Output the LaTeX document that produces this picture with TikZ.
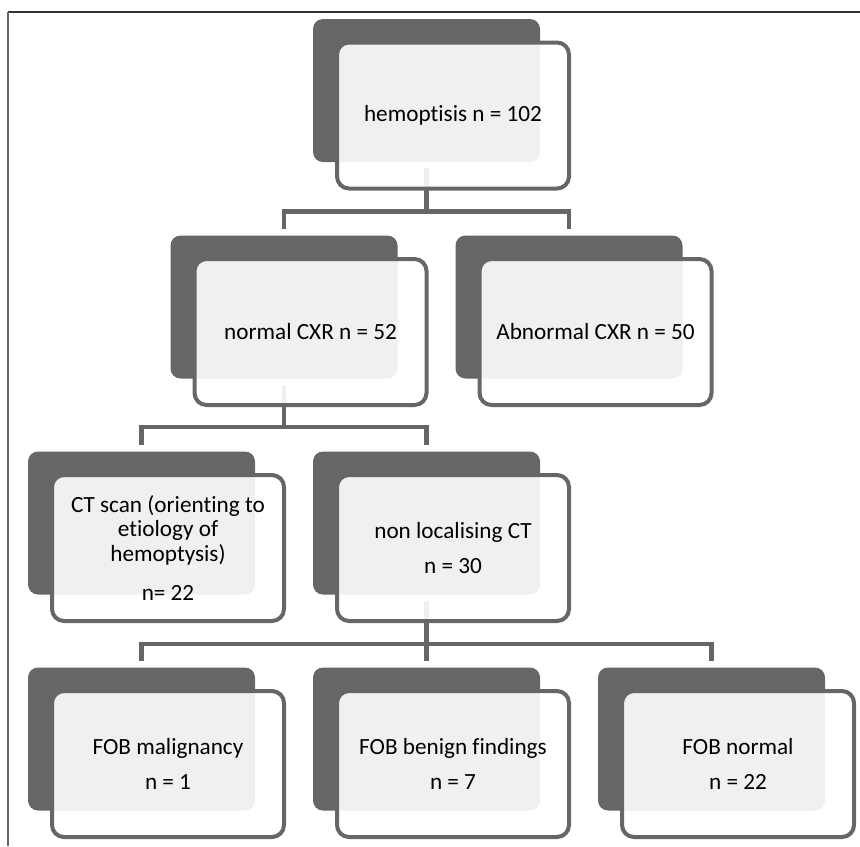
\documentclass[tikz,border=0pt]{standalone}
\usepackage{fontspec}
\setmainfont{Carlito}[Ligatures=NoCommon]
\usetikzlibrary{backgrounds}

\colorlet{boxgray}{black!60}

\tikzset{
	darkbox/.style={fill=boxgray, rounded corners=5pt, minimum width=113.5pt, minimum height=71.5pt, inner sep=0pt},
	lightbox/.style={draw=boxgray, line width=2pt, fill=white, fill opacity=0.9, text opacity=1, rounded corners=6pt,
		minimum width=116pt, minimum height=73pt, inner sep=0pt, align=center, font=\fontsize{11.6pt}{12.25pt}\selectfont},
	link/.style={draw=boxgray, line width=2.2pt, shorten <=3pt, shorten >=3pt}
}

\begin{document}
\begin{tikzpicture}[x=0.5pt,y=-0.5pt]

	\useasboundingbox (0,0) rectangle (860,846);
	%\draw[step=100,gray,very thin] (0,0) grid (860,846);

	\draw[black!80, line width=1pt] (8,12) -- (860,12);
	\draw[boxgray, line width=1.3pt] (8,12) -- (8,846);

	% first level
	\node[darkbox] (hemo) at (426.5,90.5) {};
		\node[lightbox] (hemoT) at ([shift={(26.5,25)}]hemo.center) {hemoptisis n = 102};

	% chest x-ray
	\node[darkbox] (normal) at (284,307) {};
		\node[lightbox] (normalT) at ([shift={(26.5,25)}]normal.center) {normal CXR n = 52};
	\node[darkbox] (abnormal) at (569,307) {};
		\node[lightbox] (abnormalT) at ([shift={(26.5,25)}]abnormal.center) {Abnormal CXR n = 50};

	% CT
	\node[darkbox] (ct) at (141.5,523) {};
		\node[lightbox] (ctT) at ([shift={(26.5,25)}]ct.center) {CT scan (orienting to\\ etiology of\\ hemoptysis)\\[7.5pt] n= 22};
	\node[darkbox] (nonloc) at (426.5,523) {};
		\node[lightbox] (nonlocT) at ([shift={(26.5,25)}]nonloc.center) {non localising CT\\[5.5pt] n = 30};

	% FOB
	\node[darkbox] (malig) at (141.5,739) {};
		\node[lightbox] (maligT) at ([shift={(26.5,25)}]malig.center) {FOB malignancy\\[5.5pt] n = 1};
	\node[darkbox] (benign) at (426.5,739) {};
		\node[lightbox] (benignT) at ([shift={(26.5,25)}]benign.center) {FOB benign findings\\[5.5pt] n = 7};
	\node[darkbox] (fobnormal) at (711.5,739) {};
		\node[lightbox] (fobnormalT) at ([shift={(26.5,25)}]fobnormal.center) {FOB normal\\[5.5pt] n = 22};

	\begin{scope}[on background layer]
		\draw[link] (hemo.south) -- ++(0,49) -| (normal.north);
		\draw[link] (hemo.south) -- ++(0,49) -| (abnormal.north);
		\draw[link] (normal.south) -- ++(0,48) -| (ct.north);
		\draw[link] (normal.south) -- ++(0,48) -| (nonloc.north);
		\draw[link] (nonloc.south) -- ++(0,49) -| (malig.north);
		\draw[link] (nonloc.south) -- ++(0,49) -| (benign.north);
		\draw[link] (nonloc.south) -- ++(0,49) -| (fobnormal.north);
	\end{scope}

\end{tikzpicture}
\end{document}
